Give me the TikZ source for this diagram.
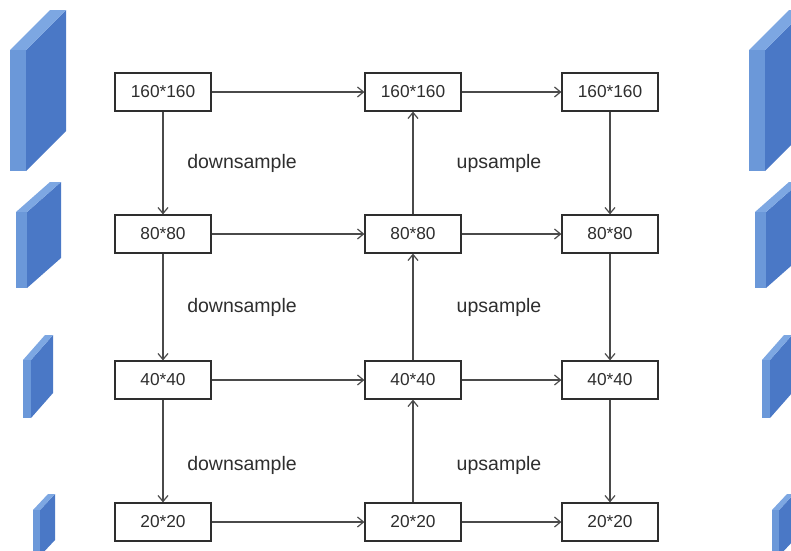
\documentclass[tikz,border=0pt]{standalone}
\usepackage{fontspec}
\setmainfont{Liberation Sans}
\usepackage{xcolor}
\definecolor{slabfront}{HTML}{6B98D9}
\definecolor{slabside}{HTML}{4A78C6}
\definecolor{slabtop}{HTML}{7DA7E2}
\definecolor{gray800}{HTML}{2E2E2E}
\definecolor{gray600}{HTML}{4A4A4A}
\usetikzlibrary{arrows.meta}
\tikzset{
  sbox/.style ={rectangle, draw=gray800, line width=1.2pt, fill=white, text=gray800, align=center,
                minimum width=96pt, minimum height=38pt, inner sep=0pt, font=\fontsize{17.3}{20}\selectfont},
  sarr/.style ={-{Straight Barb[length=6pt, width=10pt]}, line width=1.2pt, color=gray600},
  slbl/.style ={font=\fontsize{19.5}{22}\selectfont, text=gray800, inner sep=0pt},
}
\begin{document}
\begin{tikzpicture}[x=1pt, y=-1pt]
  \useasboundingbox (0,0) rectangle (791,550);
  \clip (0,0) rectangle (791,550);
  % feature slabs: front-left, front-right, top, bottom, depth dx/dy
  \foreach \ox in {0,739} {
    \foreach \fl/\fr/\tp/\bt/\dx/\dy in {10/26/50/171/40/-40, 16/27/212/288/34/-30, 23/31/360/418/22/-25, 33/40/510/556/15/-16} {
      \fill[slabside] (\ox+\fr,\tp) -- ++(\dx,\dy) -- (\ox+\fr+\dx,\bt+\dy) -- (\ox+\fr,\bt) -- cycle;
      \fill[slabtop] (\ox+\fl,\tp) -- ++(\dx,\dy) -- (\ox+\fr+\dx,\tp+\dy) -- (\ox+\fr,\tp) -- cycle;
      \fill[slabfront] (\ox+\fl,\tp) rectangle (\ox+\fr,\bt);
    }
  }
  % three columns of feature maps
  \foreach \c/\x in {a/163,b/413,c/610} {
    \node[sbox] (\c1) at (\x, 92) {160*160};
    \node[sbox] (\c2) at (\x,234) {80*80};
    \node[sbox] (\c3) at (\x,380) {40*40};
    \node[sbox] (\c4) at (\x,522) {20*20};
  }
  \foreach \r in {1,...,4} {
    \draw[sarr] (a\r) -- (b\r);
    \draw[sarr] (b\r) -- (c\r);
  }
  \foreach \r/\s in {1/2,2/3,3/4} {
    \draw[sarr] (a\r) -- (a\s);
    \draw[sarr] (b\s) -- (b\r);
    \draw[sarr] (c\r) -- (c\s);
  }
  \node[slbl] (d1) at (242,163) {downsample};
  \node[slbl] (d2) at (242,307) {downsample};
  \node[slbl] (d3) at (242,465) {downsample};
  \node[slbl] (u1) at (499,163) {upsample};
  \node[slbl] (u2) at (499,307) {upsample};
  \node[slbl] (u3) at (499,465) {upsample};
\end{tikzpicture}
\end{document}
